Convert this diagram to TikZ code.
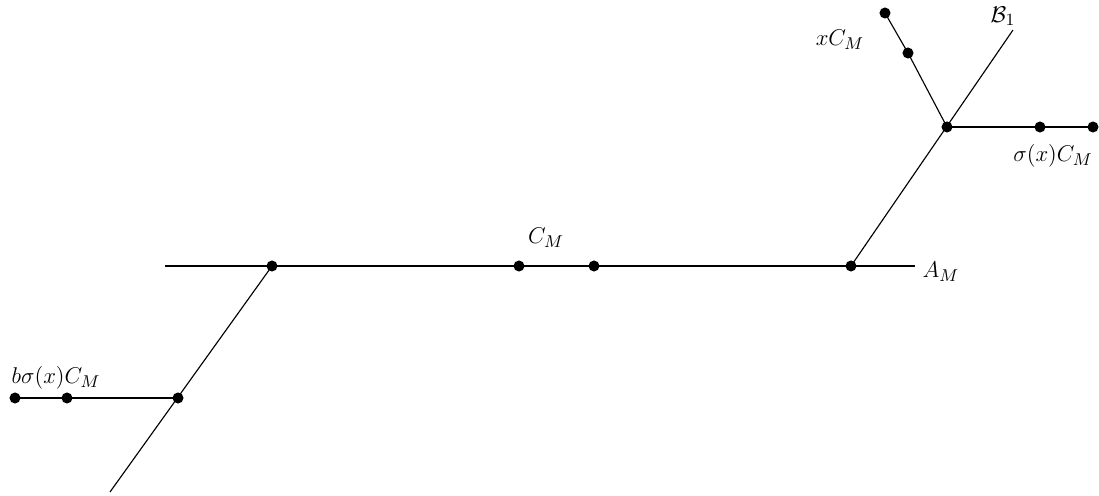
\documentclass[tikz,border=0pt]{standalone}
\begin{document}
\begin{tikzpicture}[x=0.0185cm,y=-0.0185cm,line width=0.6pt,
  every node/.style={font=\fontsize{12.5}{15}\selectfont},
  pt/.style={circle,fill,inner sep=0pt,minimum size=5.8pt}]
  \useasboundingbox (0,0) rectangle (1099,496);
  % 主线 A_M 及其上的点
  \coordinate (aL) at (165,266);
  \coordinate (aR) at (915,266);
  \node[pt] (u) at (272,266) {};
  \node[pt] (c1) at (519,266) {};
  \node[pt] (c2) at (594,266) {};
  \node[pt] (v) at (851,266) {};
  \draw (aL) -- (aR);
  \node at (941,272) (lA) {$A_M$};
  \node at (546,238) (lC) {$C_M$};
  % 右上分支 B_1
  \coordinate (bT) at (1013,30);
  \node[pt] (w) at (947,127) {};
  \draw (v.center) -- (bT);
  \node at (1003,16) (lB) {$\mathcal{B}_1$};
  % w 处的两条支
  \node[pt] (s1) at (1040,127) {};
  \node[pt] (s2) at (1093,127) {};
  \draw (w.center) -- (s2.center);
  \node at (1053,156) (lS) {$\sigma(x)C_M$};
  \node[pt] (x1) at (908,53) {};
  \node[pt] (x2) at (885,13) {};
  \draw (w.center) -- (x1.center) -- (x2.center);
  \node at (840,40) (lX) {$xC_M$};
  % 左下分支
  \coordinate (dB) at (110,492);
  \node[pt] (z) at (178,398) {};
  \draw (u.center) -- (dB);
  \node[pt] (t1) at (67,398) {};
  \node[pt] (t2) at (15,398) {};
  \draw (z.center) -- (t2.center);
  \node at (56,378) (lT) {$b\sigma(x)C_M$};
\end{tikzpicture}
\end{document}
